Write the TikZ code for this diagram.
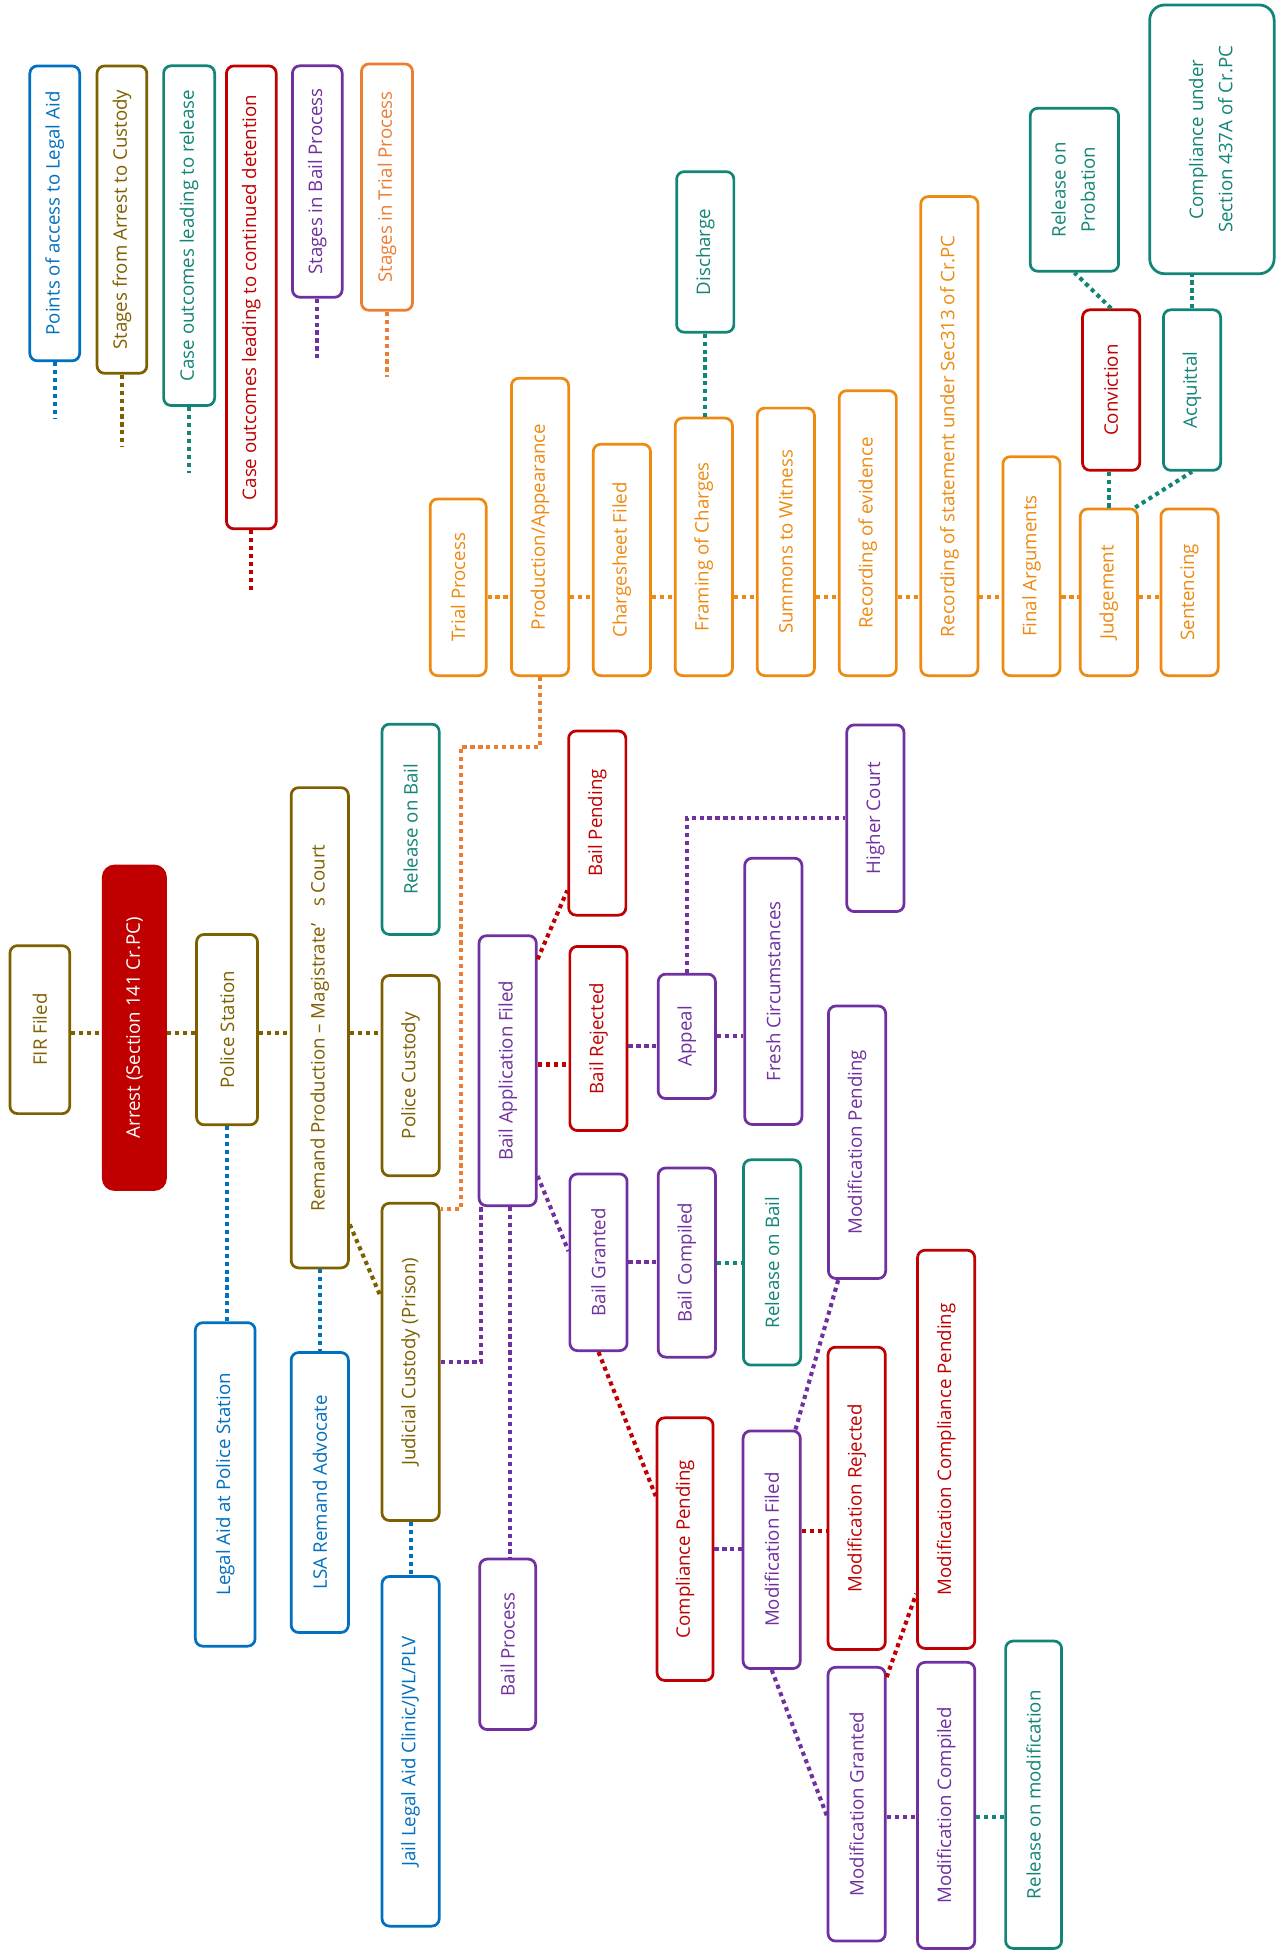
\documentclass[tikz,border=0pt]{standalone}
\usepackage{fontspec}
\setmainfont{Open Sans}
\usepackage{tikz}
\usetikzlibrary{calc, positioning}
\definecolor{cblue}{HTML}{0070C0}
\definecolor{cbrown}{HTML}{7F6000}
\definecolor{cteal}{HTML}{138577}
\definecolor{cred}{HTML}{C00000}
\definecolor{cpurple}{HTML}{7030A0}
\definecolor{corange}{HTML}{ED7D31}
\definecolor{camber}{HTML}{EE8A12}
\newcommand{\vtext}[1]{\rotatebox{90}{#1}}
\newcommand{\vtwo}[2]{\rotatebox{90}{\renewcommand{\arraystretch}{1.3}\begin{tabular}{@{}c@{}}#1\\#2\end{tabular}}}
\tikzset{
  stagebox/.style={draw, fill=white, rounded corners=6pt, line width=2.2pt,
                   inner sep=0pt, font=\fontsize{15}{18}\selectfont},
  bbox/.style={stagebox, draw=cblue, text=cblue},
  obox/.style={stagebox, draw=cbrown, text=cbrown},
  tbox/.style={stagebox, draw=cteal, text=cteal},
  rbox/.style={stagebox, draw=cred, text=cred},
  vbox/.style={stagebox, draw=cpurple, text=cpurple},
  abox/.style={stagebox, draw=camber, text=camber},
  lbox/.style={stagebox, draw=corange, text=corange},
  darkbox/.style={stagebox, draw=cred, fill=cred, text=white, rounded corners=9pt},
  link/.style={line width=3.3pt, dash pattern=on 3.3pt off 3.1pt},
}
\begin{document}
\begin{tikzpicture}[x=1pt, y=-1pt]
  \useasboundingbox (0,0) rectangle (1032,1568);

  % legend
  \node[bbox, minimum width=40pt, minimum height=237pt] (lgaid) at (44,171.5) {\vtext{Points of access to Legal Aid}};
  \node[obox, minimum width=40pt, minimum height=247pt] (lgarrest) at (98,176.5) {\vtext{Stages from Arrest to Custody}};
  \node[tbox, minimum width=41pt, minimum height=273pt] (lgrelease) at (152,189.4) {\vtext{Case outcomes leading to release}};
  \node[rbox, minimum width=40pt, minimum height=372pt] (lgdetain) at (202,239) {\vtext{Case outcomes leading to continued detention}};
  \node[vbox, minimum width=40pt, minimum height=186pt] (lgbail) at (255,145.9) {\vtext{Stages in Bail Process}};
  \node[lbox, minimum width=41pt, minimum height=198pt] (lgtrial) at (311,150.4) {\vtext{Stages in Trial Process}};
  \coordinate (lgaidend) at (44,337);
  \coordinate (lgarrestend) at (98,359);
  \coordinate (lgreleaseend) at (152,380);
  \coordinate (lgdetainend) at (202,477);
  \coordinate (lgbailend) at (255,291);
  \coordinate (lgtrialend) at (311,303);

  % arrest to custody
  \node[obox, minimum width=48pt, minimum height=135pt] (fir) at (32,827.5) {\vtext{FIR Filed}};
  \node[darkbox, minimum width=50pt, minimum height=260pt] (arrest) at (108,826) {\vtext{Arrest (Section 141 Cr.PC)}};
  \node[obox, minimum width=49pt, minimum height=153pt] (pstation) at (182.5,827.5) {\vtext{Police Station}};
  \node[obox, minimum width=46pt, minimum height=386pt] (remand) at (257,826) {\vtext{Remand Production -- Magistrate’\hspace{0.9em}s Court}};
  \node[tbox, minimum width=46pt, minimum height=169pt] (relbail) at (330,666.5) {\vtext{Release on Bail}};
  \node[obox, minimum width=46pt, minimum height=161pt] (pcustody) at (330,864.5) {\vtext{Police Custody}};
  \node[obox, minimum width=46pt, minimum height=255pt] (jcustody) at (330,1094.5) {\vtext{Judicial Custody (Prison)}};

  % legal aid
  \node[bbox, minimum width=48pt, minimum height=260pt] (lapolice) at (181,1193) {\vtext{Legal Aid at Police Station}};
  \node[bbox, minimum width=46pt, minimum height=225pt] (lsa) at (257,1199.5) {\vtext{LSA Remand Advocate}};
  \node[bbox, minimum width=46pt, minimum height=281pt] (jailclinic) at (330,1407.5) {\vtext{Jail Legal Aid Clinic/JVL/PLV}};

  % bail process
  \node[vbox, minimum width=46pt, minimum height=217pt] (bapp) at (408,860.5) {\vtext{Bail Application Filed}};
  \node[vbox, minimum width=45pt, minimum height=137pt] (bprocess) at (408,1321.5) {\vtext{Bail Process}};
  \node[rbox, minimum width=46pt, minimum height=148pt] (bpending) at (480,661.5) {\vtext{Bail Pending}};
  \node[rbox, minimum width=46pt, minimum height=148pt] (brejected) at (481,834.6) {\vtext{Bail Rejected}};
  \node[vbox, minimum width=46pt, minimum height=142pt] (bgranted) at (481,1014.5) {\vtext{Bail Granted}};
  \node[vbox, minimum width=46pt, minimum height=100pt] (appeal) at (552,832.9) {\vtext{Appeal}};
  \node[vbox, minimum width=46pt, minimum height=152pt] (bcompiled) at (552,1014.7) {\vtext{Bail Compiled}};
  \node[vbox, minimum width=46pt, minimum height=214pt] (fresh) at (621.5,796.7) {\vtext{Fresh Circumstances}};
  \node[tbox, minimum width=46pt, minimum height=165pt] (relbailb) at (620.5,1014.6) {\vtext{Release on Bail}};
  \node[vbox, minimum width=46pt, minimum height=150pt] (hcourt) at (703.5,657.6) {\vtext{Higher Court}};
  \node[vbox, minimum width=46pt, minimum height=219pt] (modpending) at (688.8,918) {\vtext{Modification Pending}};
  \node[rbox, minimum width=45pt, minimum height=211pt] (comppending) at (550.6,1245) {\vtext{Compliance Pending}};
  \node[vbox, minimum width=46pt, minimum height=191pt] (modfiled) at (620.2,1245.5) {\vtext{Modification Filed}};
  \node[rbox, minimum width=46pt, minimum height=243pt] (modrejected) at (688.5,1204.2) {\vtext{Modification Rejected}};
  \node[rbox, minimum width=46pt, minimum height=320pt] (modcomppending) at (760.4,1164.8) {\vtext{Modification Compliance Pending}};
  \node[vbox, minimum width=46pt, minimum height=220pt] (modgranted) at (688.5,1450) {\vtext{Modification Granted}};
  \node[vbox, minimum width=46pt, minimum height=230pt] (modcompiled) at (760.4,1451) {\vtext{Modification Compiled}};
  \node[tbox, minimum width=45pt, minimum height=247pt] (relmod) at (830.7,1442.4) {\vtext{Release on modification}};

  % trial process
  \node[abox, minimum width=45pt, minimum height=142pt] (trial) at (368.2,472) {\vtext{Trial Process}};
  \node[abox, minimum width=46pt, minimum height=239pt] (prod) at (434,423.5) {\vtext{Production/Appearance}};
  \node[abox, minimum width=46pt, minimum height=186pt] (charge) at (499.8,450) {\vtext{Chargesheet Filed}};
  \node[abox, minimum width=46pt, minimum height=207pt] (framing) at (565.6,439.5) {\vtext{Framing of Charges}};
  \node[abox, minimum width=46pt, minimum height=215pt] (summons) at (631.6,435.5) {\vtext{Summons to Witness}};
  \node[abox, minimum width=46pt, minimum height=229pt] (evidence) at (697.4,428.5) {\vtext{Recording of evidence}};
  \node[abox, minimum width=46pt, minimum height=385pt] (statement) at (763,350.5) {\vtext{Recording of statement under Sec313 of Cr.PC}};
  \node[abox, minimum width=46pt, minimum height=176pt] (finalarg) at (829,455) {\vtext{Final Arguments}};
  \node[abox, minimum width=46pt, minimum height=134pt] (judge) at (891.2,476) {\vtext{Judgement}};
  \node[abox, minimum width=46pt, minimum height=134pt] (sentence) at (956,476) {\vtext{Sentencing}};
  \node[tbox, minimum width=46pt, minimum height=129pt] (discharge) at (566.8,202.5) {\vtext{Discharge}};
  \node[rbox, minimum width=46pt, minimum height=129pt] (conviction) at (893,313.5) {\vtext{Conviction}};
  \node[tbox, minimum width=46pt, minimum height=129pt] (acquittal) at (958,313.5) {\vtext{Acquittal}};
  \node[tbox, minimum width=71pt, minimum height=131pt] (probation) at (863.5,152.5) {\vtwo{Release on}{Probation}};
  \node[tbox, minimum width=100pt, minimum height=216pt, rounded corners=12pt] (sec437) at (974,112) {\vtwo{Compliance under}{Section 437A of Cr.PC}};
  \coordinate (trow) at (0,480);
  \coordinate (arow) at (0,830);
  \coordinate (prodbend) at (370.5,600.3);

  % legend links
  \draw[link, cblue] (lgaid) -- (lgaidend);
  \draw[link, cbrown] (lgarrest) -- (lgarrestend);
  \draw[link, cteal] (lgrelease) -- (lgreleaseend);
  \draw[link, cred] (lgdetain) -- (lgdetainend);
  \draw[link, cpurple] (lgbail) -- (lgbailend);
  \draw[link, corange] (lgtrial) -- (lgtrialend);

  % arrest to custody links
  \draw[link, cbrown] (fir.east |- arow) -- (arrest.west |- arow);
  \draw[link, cbrown] (arrest.east |- arow) -- (pstation.west |- arow);
  \draw[link, cbrown] (pstation.east |- arow) -- (remand.west |- arow);
  \draw[link, cbrown] (remand.east |- arow) -- (pcustody.west |- arow);
  \draw[link, cbrown] ($(remand.south east)+(0,-36)$) -- ($(jcustody.north west)+(0,76)$);
  \draw[link, cblue] (pstation.south) -- (pstation.south |- lapolice.north);
  \draw[link, cblue] (remand.south) -- (remand.south |- lsa.north);
  \draw[link, cblue] (jcustody.south) -- (jcustody.south |- jailclinic.north);
  \draw[link, corange] (prod.south) |- (prodbend) |- ($(jcustody.north east)+(0,6)$);

  % bail links
  \draw[link, cpurple] (jcustody.east) -| ($(bapp.south west)+(3,0)$);
  \draw[link, cpurple] ($(bapp.south)+(2,0)$) -- ($(bapp.south |- bprocess.north)+(2,0)$);
  \draw[link, cred] ($(bapp.north east)+(0,20)$) -- ($(bpending.south west)+(0,-21)$);
  \draw[link, cred] ($(bapp.east)+(0,-5)$) -- ($(bapp.east -| brejected.west)+(0,-5)$);
  \draw[link, cpurple] ($(bapp.south east)+(0,-25)$) -- ($(bgranted.west)+(0,-9)$);
  \draw[link, cpurple] ($(brejected.east)+(0,6)$) -- ($(brejected.east -| appeal.west)+(0,6)$);
  \draw[link, cpurple] (appeal.east) -- (appeal.east -| fresh.west);
  \draw[link, cpurple] (appeal.north) |- (hcourt.west);
  \draw[link, cpurple] (bgranted.east) -- (bgranted.east -| bcompiled.west);
  \draw[link, cteal] (bcompiled.east) -- (bcompiled.east -| relbailb.west);
  \draw[link, cred] (bgranted.south) -- ($(comppending.north west)+(0,64)$);
  \draw[link, cpurple] (comppending.east) -- (comppending.east -| modfiled.west);
  \draw[link, cred] ($(modfiled.east)+(0,-15)$) -- ($(modfiled.east -| modrejected.west)+(0,-15)$);
  \draw[link, cpurple] ($(modfiled.north east)+(-5,0)$) -- ($(modpending.south west)+(9,0)$);
  \draw[link, cpurple] (modfiled.south) -- ($(modgranted.west)+(0,9)$);
  \draw[link, cred] ($(modgranted.north east)+(0,9)$) -- ($(modcomppending.south west)+(0,-45)$);
  \draw[link, cpurple] ($(modgranted.east)+(0,10)$) -- ($(modgranted.east -| modcompiled.west)+(0,10)$);
  \draw[link, cteal] ($(modcompiled.east)+(0,9)$) -- ($(modcompiled.east -| relmod.west)+(0,9)$);

  % trial links
  \draw[link, camber] (trial.east |- trow) -- (prod.west |- trow);
  \draw[link, camber] (prod.east |- trow) -- (charge.west |- trow);
  \draw[link, camber] (charge.east |- trow) -- (framing.west |- trow);
  \draw[link, camber] (framing.east |- trow) -- (summons.west |- trow);
  \draw[link, camber] (summons.east |- trow) -- (evidence.west |- trow);
  \draw[link, camber] (evidence.east |- trow) -- (statement.west |- trow);
  \draw[link, camber] (statement.east |- trow) -- (finalarg.west |- trow);
  \draw[link, camber] (finalarg.east |- trow) -- (judge.west |- trow);
  \draw[link, camber] (judge.east |- trow) -- (sentence.west |- trow);
  \draw[link, cteal] (discharge.south) -- (discharge.south |- framing.north);
  \draw[link, cteal] (judge.north) -- (judge.north |- conviction.south);
  \draw[link, cteal] ($(judge.north east)+(-3,0)$) -- (acquittal.south);
  \draw[link, cteal] (conviction.north) -- (probation.south);
  \draw[link, cteal] (acquittal.north) -- (acquittal.north |- sec437.south);
\end{tikzpicture}
\end{document}
